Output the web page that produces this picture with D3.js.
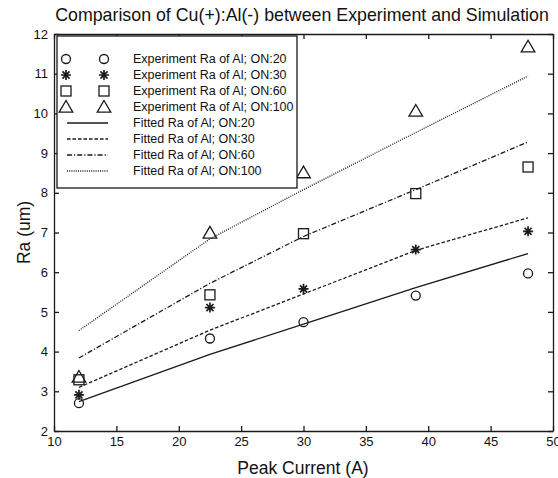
<!DOCTYPE html>
<html>
<head>
<meta charset="utf-8">
<script src="https://cdn.jsdelivr.net/npm/d3@7"></script>
<style>
  body { margin: 0; background: #fff; }
  text { font-family: "Liberation Sans", Arial, sans-serif; fill: #111; }
</style>
</head>
<body>
<svg id="chart" width="558" height="478"></svg>
<script>
// peak current (A) at which Ra was measured / fitted
const currents = [12, 22.5, 30, 39, 48];
const onTimes = ["20", "30", "60", "100"];

// experiment Ra (um)
const expRa20 = [2.70, 4.33, 4.74, 5.41, 5.97];
const expRa30 = [2.91, 5.11, 5.58, 6.57, 7.03];
const expRa60 = [3.29, 5.43, 6.97, 7.98, 8.65];
const expRa100 = [3.36, 6.99, 8.51, 10.06, 11.68];

// fitted Ra (um)
const fitRa20 = [2.74, 3.93, 4.69, 5.61, 6.47];
const fitRa30 = [3.10, 4.54, 5.45, 6.55, 7.37];
const fitRa60 = [3.84, 5.72, 6.90, 8.08, 9.28];
const fitRa100 = [4.53, 6.84, 8.08, 9.52, 10.94];

const xTicks = [10, 15, 20, 25, 30, 35, 40, 45, 50];
const yTicks = [2, 3, 4, 5, 6, 7, 8, 9, 10, 11, 12];

const width = 558, height = 478;
const margin = {top: 34, right: 5, bottom: 47, left: 54};
const ink = "#1a1a1a";

const svg = d3.select("#chart");

const x = d3.scaleLinear().domain([10, 50]).range([margin.left, width - margin.right]);
const y = d3.scaleLinear().domain([2, 12]).range([height - margin.bottom, margin.top]);

// marker shapes, MATLAB style
const markers = ["circle", "star", "square", "triangle"];
function drawMarker(g, kind, cx, cy) {
    const m = g.append("g").attr("transform", `translate(${cx},${cy})`)
        .attr("fill", "none").attr("stroke", ink).attr("stroke-width", 1.3);
    if (kind === "circle") {
        m.append("circle").attr("r", 4.5);
    } else if (kind === "square") {
        m.append("rect").attr("x", -5).attr("y", -5).attr("width", 10).attr("height", 10);
    } else if (kind === "triangle") {
        m.append("path").attr("d", "M0,-6.5 L6.8,5.2 L-6.8,5.2 Z");
    } else {
        const r = 5, s = r * Math.SQRT1_2;
        m.append("path").attr("stroke-width", 1.7)
            .attr("d", `M0,${-r}V${r}M${-r},0H${r}M${-s},${-s}L${s},${s}M${-s},${s}L${s},${-s}`);
    }
}

const dashes = [null, "3.5,2", "5,2,1.2,2", "1,1.2"];

const expSeries = [expRa20, expRa30, expRa60, expRa100];
const fitSeries = [fitRa20, fitRa30, fitRa60, fitRa100];

// axes box with inward ticks on all four sides
const tickLen = 5;
svg.append("g").attr("transform", `translate(0,${y(2)})`)
    .call(d3.axisBottom(x).tickValues(xTicks).tickSizeInner(-tickLen).tickSizeOuter(0).tickPadding(6))
    .call(g => g.selectAll("text").attr("font-size", 13).attr("dy", "0.71em"));
svg.append("g").attr("transform", `translate(0,${y(12)})`)
    .call(d3.axisTop(x).tickValues(xTicks).tickSizeInner(-tickLen).tickSizeOuter(0).tickFormat(""));
svg.append("g").attr("transform", `translate(${x(10)},0)`)
    .call(d3.axisLeft(y).tickValues(yTicks).tickSizeInner(-tickLen).tickSizeOuter(0).tickPadding(6))
    .call(g => g.selectAll("text").attr("font-size", 13));
svg.append("g").attr("transform", `translate(${x(50)},0)`)
    .call(d3.axisRight(y).tickValues(yTicks).tickSizeInner(-tickLen).tickSizeOuter(0).tickFormat(""));
svg.selectAll(".domain, .tick line").attr("stroke", ink).attr("stroke-width", 1.3);
svg.selectAll(".tick text").attr("fill", ink).attr("font-family", "Liberation Sans, Arial, sans-serif");

// fitted lines
const line = d3.line().x((d, i) => x(currents[i])).y(d => y(d));
fitSeries.forEach((vals, k) => {
    svg.append("path").datum(vals)
        .attr("d", line)
        .attr("fill", "none")
        .attr("stroke", ink)
        .attr("stroke-width", 1.3)
        .attr("stroke-dasharray", dashes[k]);
});

// experiment points
expSeries.forEach((vals, k) => {
    vals.forEach((v, i) => drawMarker(svg, markers[k], x(currents[i]), y(v)));
});

// legend
const lg = svg.append("g");
lg.append("rect").attr("x", 57).attr("y", 36).attr("width", 240).attr("height", 152)
    .attr("fill", "#fff").attr("stroke", ink).attr("stroke-width", 1.3);
const rowY = i => 59 + i * 16;
onTimes.forEach((t, k) => {
    drawMarker(lg, markers[k], 66, rowY(k));
    drawMarker(lg, markers[k], 104, rowY(k));
    lg.append("text").attr("x", 133).attr("y", rowY(k)).attr("dy", "0.35em")
        .attr("font-size", 12.5).text(`Experiment Ra of Al; ON:${t}`);
});
onTimes.forEach((t, k) => {
    const ry = rowY(k + 4);
    lg.append("line").attr("x1", 67).attr("x2", 108).attr("y1", ry).attr("y2", ry)
        .attr("stroke", ink).attr("stroke-width", 1.3).attr("stroke-dasharray", dashes[k]);
    lg.append("text").attr("x", 133).attr("y", ry).attr("dy", "0.35em")
        .attr("font-size", 12.5).text(`Fitted Ra of Al; ON:${t}`);
});

// title and axis labels
svg.append("text").attr("x", 302).attr("y", 21).attr("text-anchor", "middle")
    .attr("font-size", 17.8).text("Comparison of Cu(+):Al(-) between Experiment and Simulation");
svg.append("text").attr("x", 303).attr("y", 474).attr("text-anchor", "middle")
    .attr("font-size", 17.5).text("Peak Current (A)");
svg.append("text").attr("transform", `translate(30,${y(7)}) rotate(-90)`)
    .attr("text-anchor", "middle").attr("font-size", 17.5).text("Ra (um)");
</script>
</body>
</html>
